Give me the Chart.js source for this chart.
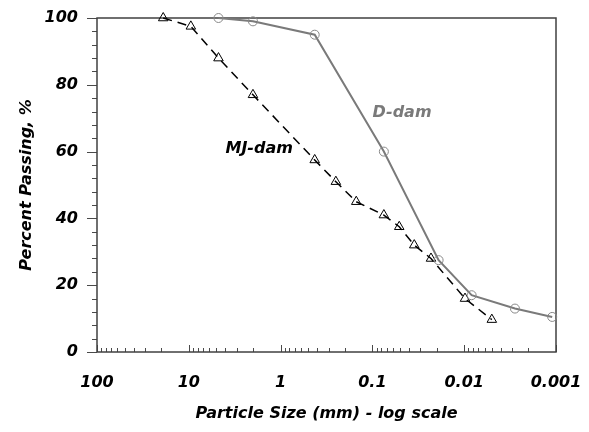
<!DOCTYPE html>
<html>
<head>
<meta charset="utf-8">
<script src="https://cdn.jsdelivr.net/npm/chart.js@4/dist/chart.umd.min.js"></script>
<style>
  html, body { margin: 0; padding: 0; background: #fff; }
</style>
</head>
<body>
<canvas id="chart" width="589" height="432"></canvas>
<script>
// ==================== Data ====================
const dDamSize = [4.75, 2.0, 0.425, 0.075, 0.019, 0.0083, 0.0028, 0.0011];
const dDamPassing = [100, 99, 95, 60, 27.5, 17, 13, 10.5];

const mjDamSize = [19, 9.5, 4.75, 2.0, 0.425, 0.25, 0.15, 0.075, 0.051, 0.035, 0.023, 0.0098, 0.005];
const mjDamPassing = [100, 97.5, 88, 77, 57.5, 51, 45, 41, 37.5, 32, 28, 16, 9.7];

const xDecades = [100, 10, 1, 0.1, 0.01, 0.001];
const yLabels = [0, 20, 40, 60, 80, 100];
const seriesNames = ["D-dam", "MJ-dam"];

// ==================== Helpers ====================
const fontFamily = "'DejaVu Sans', Verdana, sans-serif";
const font = { family: fontFamily, size: 16, weight: "bold", style: "italic" };

function isDecade(v) {
  const lg = Math.log10(v);
  return Math.abs(lg - Math.round(lg)) < 1e-6;
}

// every 1..9 x 10^n between 0.001 and 100
const xTickValues = [];
xDecades.slice(1).reverse().forEach(d => {
  for (let k = 1; k <= 9; k++) xTickValues.push(Number((k * d).toPrecision(3)));
});
xTickValues.push(100);

// minor y ticks every 4 units
const yTickValues = [];
for (let v = 0; v <= 100; v += 4) yTickValues.push(v);

const toPoints = (xs, ys) => xs.map((x, i) => ({ x: x, y: ys[i] }));

// where the series names sit, in data units
const nameAnchors = { "D-dam": [0.0476, 71.7], "MJ-dam": [1.71, 60.8] };
const nameColors = { "D-dam": "#7a7a7a", "MJ-dam": "#000" };

// ==================== Frame, tick marks, names ====================
const frameAndTicks = {
  id: "frameAndTicks",
  beforeDatasetsDraw(chart) {
    const { ctx, chartArea: a, scales: { x, y } } = chart;
    ctx.save();
    ctx.strokeStyle = "#4a4a4a";
    ctx.lineWidth = 1;
    ctx.beginPath();
    x.ticks.forEach(t => {
      const px = Math.round(x.getPixelForValue(t.value)) + 0.5;
      const len = isDecade(t.value) ? 7 : 4;
      ctx.moveTo(px, a.bottom);
      ctx.lineTo(px, a.bottom - len);
    });
    y.ticks.forEach(t => {
      const py = Math.round(y.getPixelForValue(t.value)) + 0.5;
      const len = t.value % 20 === 0 ? 10 : 5;
      ctx.moveTo(a.left - len, py);
      ctx.lineTo(a.left, py);
    });
    ctx.stroke();
    ctx.strokeStyle = "#404040";
    ctx.lineWidth = 1.5;
    ctx.strokeRect(a.left, a.top, a.right - a.left, a.bottom - a.top);
    ctx.restore();
  },
  afterDatasetsDraw(chart) {
    const { ctx, scales: { x, y } } = chart;
    ctx.save();
    ctx.font = "italic bold 16px " + fontFamily;
    ctx.textAlign = "center";
    ctx.textBaseline = "middle";
    seriesNames.forEach(n => {
      const [vx, vy] = nameAnchors[n];
      ctx.fillStyle = nameColors[n];
      ctx.fillText(n, x.getPixelForValue(vx), y.getPixelForValue(vy));
    });
    ctx.restore();
  }
};

// ==================== Chart ====================
const ctx = document.getElementById("chart").getContext("2d");
new Chart(ctx, {
  type: "scatter",
  data: {
    datasets: [{
      label: seriesNames[0],
      data: toPoints(dDamSize, dDamPassing),
      showLine: true,
      borderColor: "#7a7a7a",
      borderWidth: 2,
      pointStyle: "circle",
      pointRadius: 4.5,
      pointBackgroundColor: "rgba(255,255,255,0)",
      pointBorderColor: "#888",
      pointBorderWidth: 1,
      clip: false
    }, {
      label: seriesNames[1],
      data: toPoints(mjDamSize, mjDamPassing),
      showLine: true,
      borderColor: "#000",
      borderWidth: 1.5,
      borderDash: [9, 6],
      pointStyle: "triangle",
      pointRadius: 5.5,
      pointBackgroundColor: "rgba(255,255,255,0)",
      pointBorderColor: "#000",
      pointBorderWidth: 1,
      clip: false
    }]
  },
  options: {
    responsive: false,
    animation: false,
    layout: { padding: { left: 0, right: 33, top: 18, bottom: 0 } },
    plugins: { legend: { display: false }, tooltip: { enabled: false } },
    scales: {
      x: {
        type: "logarithmic",
        reverse: true,
        min: 0.001,
        max: 100,
        afterBuildTicks: s => { s.ticks = xTickValues.map(v => ({ value: v })); },
        afterFit: s => { s.height = 80; s.paddingLeft = 0; s.paddingRight = 0; },
        grid: { display: false, drawTicks: false },
        border: { display: false },
        ticks: {
          autoSkip: false,
          maxRotation: 0,
          padding: 21,
          color: "#000",
          font: font,
          callback: v => {
            if (!isDecade(v)) return "";
            const lg = Math.round(Math.log10(v));
            return lg >= 0 ? String(Math.round(v)) : v.toFixed(-lg);
          }
        },
        title: {
          display: true,
          text: "Particle Size (mm) - log scale",
          color: "#000",
          font: font,
          padding: { top: 0, bottom: 9 }
        }
      },
      y: {
        min: 0,
        max: 100,
        afterBuildTicks: s => { s.ticks = yTickValues.map(v => ({ value: v })); },
        afterFit: s => { s.width = 97; s.paddingTop = 10; s.paddingBottom = 0; },
        grid: { display: false, drawTicks: false },
        border: { display: false },
        ticks: {
          autoSkip: false,
          padding: 19,
          color: "#000",
          font: font,
          callback: v => yLabels.includes(v) ? String(v) : ""
        },
        title: {
          display: true,
          text: "Percent Passing, %",
          color: "#000",
          font: font,
          padding: { top: 17, bottom: 0 }
        }
      }
    }
  },
  plugins: [frameAndTicks]
});
</script>
</body>
</html>
